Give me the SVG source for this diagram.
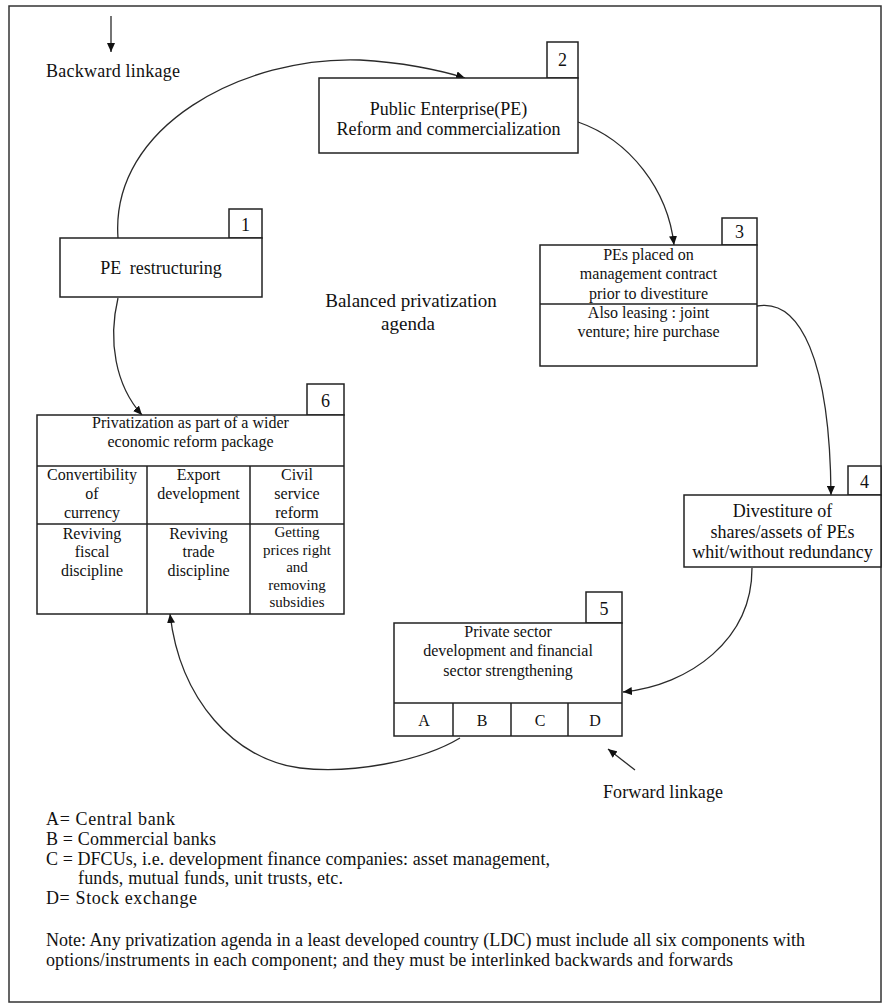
<svg xmlns="http://www.w3.org/2000/svg" width="886" height="1007" viewBox="0 0 886 1007">
<defs>
<style>
.bx{fill:#fff;stroke:#222;stroke-width:1.5}
.ln{fill:none;stroke:#222;stroke-width:1.5}
.cn{fill:none;stroke:#2a2a2a;stroke-width:1.3}
text{font-family:"Liberation Serif","Times New Roman",serif;fill:#111}
.t16{font-size:16px;text-anchor:middle}
.t18{font-size:18px;text-anchor:middle}
.t15{font-size:15px;text-anchor:middle}
.num{font-size:18px;text-anchor:middle}
.lg{font-size:18px}
</style>
<marker id="ah" markerUnits="userSpaceOnUse" markerWidth="10" markerHeight="8" refX="9" refY="4" orient="auto">
<path d="M0,0 L9,4 L0,8 z" fill="#111"/>
</marker>
</defs>
<rect x="0" y="0" width="886" height="1007" fill="#fff"/>
<rect x="9" y="6" width="872" height="996" fill="none" stroke="#333" stroke-width="1.5"/>

<g id="connectors">
<path class="cn" d="M111,16 L111,52" marker-end="url(#ah)"/>
<path class="cn" d="M118,238 C110,125 245,56 360,60 C400,62 440,70 465,78" marker-end="url(#ah)"/>
<path class="cn" d="M578,122 C630,140 668,190 674,245" marker-end="url(#ah)"/>
<path class="cn" d="M757,306 C800,298 830,360 831,495" marker-end="url(#ah)"/>
<path class="cn" d="M752,568 C752,640 690,685 623,692" marker-end="url(#ah)"/>
<path class="cn" d="M460,738 C420,762 350,774 300,768 C235,760 180,700 170,614" marker-end="url(#ah)"/>
<path class="cn" d="M118,298 C108,340 115,385 142,415" marker-end="url(#ah)"/>
<path class="cn" d="M635,770 L608,749" marker-end="url(#ah)"/>
</g>

<g id="labels">
<text class="lg" x="46" y="77" textLength="134" lengthAdjust="spacing">Backward linkage</text>
<text class="lg" x="603" y="798" textLength="120" lengthAdjust="spacing">Forward linkage</text>
<text x="411" y="307" style="font-size:19px;text-anchor:middle">Balanced privatization</text>
<text x="408" y="330" style="font-size:19px;text-anchor:middle">agenda</text>
</g>

<g id="node1">
<rect class="bx" x="229" y="209" width="33" height="29"/>
<text class="num" x="245.5" y="231">1</text>
<rect class="bx" x="60" y="238" width="202" height="59"/>
<text class="t18" x="161" y="274" style="word-spacing:4px">PE restructuring</text>
</g>

<g id="node2">
<rect class="bx" x="547" y="42" width="31" height="36"/>
<text class="num" x="562.5" y="66">2</text>
<rect class="bx" x="319" y="78" width="259" height="75"/>
<text class="t18" x="448.5" y="115">Public Enterprise(PE)</text>
<text class="t18" x="448.5" y="135">Reform and commercialization</text>
</g>

<g id="node3">
<rect class="bx" x="722" y="218" width="35" height="27"/>
<text class="num" x="739.5" y="238">3</text>
<rect class="bx" x="540" y="245" width="217" height="121"/>
<line class="ln" x1="540" y1="304" x2="757" y2="304"/>
<text class="t16" x="648.5" y="260">PEs placed on</text>
<text class="t16" x="648.5" y="279">management contract</text>
<text class="t16" x="648.5" y="299">prior to divestiture</text>
<text class="t16" x="648.5" y="318">Also leasing : joint</text>
<text class="t16" x="648.5" y="337">venture; hire purchase</text>
</g>

<g id="node4">
<rect class="bx" x="848" y="466" width="33" height="29"/>
<text class="num" x="864.5" y="488">4</text>
<rect class="bx" x="684" y="495" width="197" height="72"/>
<text class="t18" x="782.5" y="517">Divestiture of</text>
<text class="t18" x="782.5" y="538">shares/assets of PEs</text>
<text class="t18" x="782.5" y="558">whit/without redundancy</text>
</g>

<g id="node5">
<rect class="bx" x="586" y="592" width="36" height="31"/>
<text class="num" x="604" y="615">5</text>
<rect class="bx" x="394" y="623" width="228" height="113"/>
<line class="ln" x1="394" y1="703" x2="622" y2="703"/>
<line class="ln" x1="453" y1="703" x2="453" y2="736"/>
<line class="ln" x1="511" y1="703" x2="511" y2="736"/>
<line class="ln" x1="568" y1="703" x2="568" y2="736"/>
<text class="t16" x="508" y="637">Private sector</text>
<text class="t16" x="508" y="656">development and financial</text>
<text class="t16" x="508" y="676">sector strengthening</text>
<text class="t16" x="424" y="726">A</text>
<text class="t16" x="482" y="726">B</text>
<text class="t16" x="540" y="726">C</text>
<text class="t16" x="595" y="726">D</text>
</g>

<g id="node6">
<rect class="bx" x="307" y="384" width="37" height="31"/>
<text class="num" x="325.5" y="407">6</text>
<rect class="bx" x="37" y="415" width="307" height="199"/>
<line class="ln" x1="37" y1="466" x2="344" y2="466"/>
<line class="ln" x1="37" y1="524" x2="344" y2="524"/>
<line class="ln" x1="147" y1="466" x2="147" y2="614"/>
<line class="ln" x1="250" y1="466" x2="250" y2="614"/>
<text class="t16" x="190.5" y="428">Privatization as part of a wider</text>
<text class="t16" x="190.5" y="447">economic reform package</text>
<text class="t16" x="92" y="480">Convertibility</text>
<text class="t16" x="92" y="499">of</text>
<text class="t16" x="92" y="518">currency</text>
<text class="t16" x="198.5" y="480">Export</text>
<text class="t16" x="198.5" y="499">development</text>
<text class="t16" x="297" y="480">Civil</text>
<text class="t16" x="297" y="499">service</text>
<text class="t16" x="297" y="518">reform</text>
<text class="t16" x="92" y="539">Reviving</text>
<text class="t16" x="92" y="557">fiscal</text>
<text class="t16" x="92" y="576">discipline</text>
<text class="t16" x="198.5" y="539">Reviving</text>
<text class="t16" x="198.5" y="557">trade</text>
<text class="t16" x="198.5" y="576">discipline</text>
<text class="t15" x="297" y="537">Getting</text>
<text class="t15" x="297" y="555">prices right</text>
<text class="t15" x="297" y="572">and</text>
<text class="t15" x="297" y="590">removing</text>
<text class="t15" x="297" y="607">subsidies</text>
</g>

<g id="legend">
<text class="lg" x="46" y="825" textLength="129" lengthAdjust="spacing">A= Central bank</text>
<text class="lg" x="46" y="845" textLength="170" lengthAdjust="spacing">B = Commercial banks</text>
<text class="lg" x="46" y="865" textLength="504" lengthAdjust="spacing">C = DFCUs, i.e.  development finance companies: asset management,</text>
<text class="lg" x="78" y="884" textLength="265" lengthAdjust="spacing">funds, mutual funds, unit trusts, etc.</text>
<text class="lg" x="46" y="904" textLength="151" lengthAdjust="spacing">D= Stock exchange</text>
<text class="lg" x="46" y="946" textLength="759" lengthAdjust="spacing">Note: Any privatization agenda in a least developed country (LDC) must include all six components with</text>
<text class="lg" x="46" y="966" textLength="687" lengthAdjust="spacing">options/instruments in each component; and they  must be interlinked backwards and forwards</text>
</g>
</svg>
